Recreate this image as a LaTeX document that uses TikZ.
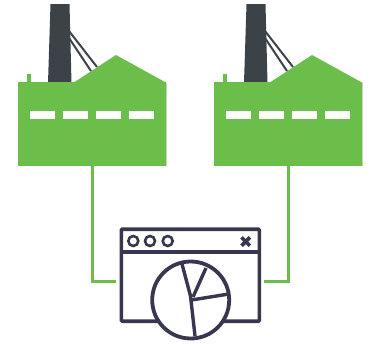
\documentclass[tikz,border=0pt]{standalone}
\definecolor{fgreen}{HTML}{6CBE4A}
\definecolor{fedge}{HTML}{A3BF98}
\definecolor{chim}{HTML}{3B4349}
\definecolor{navy}{HTML}{38374F}
\tikzset{
  x=1pt,y=-1pt,
  bodybox/.style={fill=fgreen,draw=none,inner sep=0,outer sep=0,minimum width=148pt,minimum height=84pt},
  winpane/.style={fill=white,draw=none,inner sep=0,outer sep=0,minimum width=25pt,minimum height=8pt},
  link/.style={draw=fgreen,line width=3pt},
  strut/.style={draw=chim,line width=2pt},
  ink/.style={draw=navy,line width=3.6pt},
  framebox/.style={draw=navy,line width=3.6pt,fill=white,rounded corners=1pt,inner sep=0,minimum width=138pt,minimum height=92pt},
  dot/.style={circle,draw=navy,line width=2.6pt,fill=white,inner sep=0,minimum size=10pt},
  pie/.style={circle,draw=navy,line width=3.8pt,fill=white,inner sep=0,minimum size=77pt},
  factory/.pic={
    \draw[strut] (69,31) -- (97,67);
    \draw[strut] (69,38) -- (91,71);
    \fill[chim] (50.5,4) -- (69.5,4) -- (71.5,83) -- (48,83) -- cycle;
    \fill[fgreen] (27,74) -- (30.5,74) -- (30.5,83) -- (27,83) -- cycle;
    \fill[fgreen] (73,83) -- (116,55) -- (165,82) -- (165,83) -- cycle;
    \fill[fedge] (165,82) -- (166.6,82.8) -- (166.6,166) -- (165,166) -- cycle;
  }
}
\begin{document}
\begin{tikzpicture}
\useasboundingbox (0,0) rectangle (377,343);
\pic at (0,0) {factory};
\pic at (196,0) {factory};
\node[bodybox] (bodyA) at (91.5,124) {};
\node[bodybox] (bodyB) at (287.5,124) {};
\foreach \f/\o in {A/0,B/196}{
  \node[winpane] (pane\f1) at (42.5+\o,115) {};
  \node[winpane] (pane\f2) at (75+\o,115) {};
  \node[winpane] (pane\f3) at (108.5+\o,115) {};
  \node[winpane] (pane\f4) at (141.5+\o,115) {};
}
\node[framebox] (frame) at (190.3,275.2) {};
\coordinate (endL) at (116,281.5);
\coordinate (endR) at (264,281.5);
\draw[link] (bodyA.south) ++(1,-1) -- ++(0,0) |- (endL);
\draw[link] (bodyB.south) ++(1,-1) -- ++(0,0) |- (endR);
\draw[ink] (frame.west |- 0,252) -- (frame.east |- 0,252);
\node[dot] (d1) at (133.3,241) {};
\node[dot] (d2) at (150,241) {};
\node[dot] (d3) at (167.7,241) {};
\node[inner sep=0,minimum size=10pt] (closeX) at (245.7,241.5) {};
\draw[draw=navy,line width=3.6pt] (closeX.north west) ++(1,1) -- ([xshift=-1pt,yshift=1pt]closeX.south east);
\draw[draw=navy,line width=3.6pt] ([xshift=-1pt,yshift=-1pt]closeX.north east) -- ([xshift=1pt,yshift=1pt]closeX.south west);
\node[pie] (pie) at (190.7,300) {};
\coordinate (hub) at (190.5,296);
\draw[navy,line width=3.4pt,line join=round] (182,264) -- (hub) -- (195,336);
\draw[navy,line width=3.4pt] (206,268) -- (193,297);
\draw[navy,line width=3.4pt] (227,294.3) -- (191.5,300);
\end{tikzpicture}
\end{document}
